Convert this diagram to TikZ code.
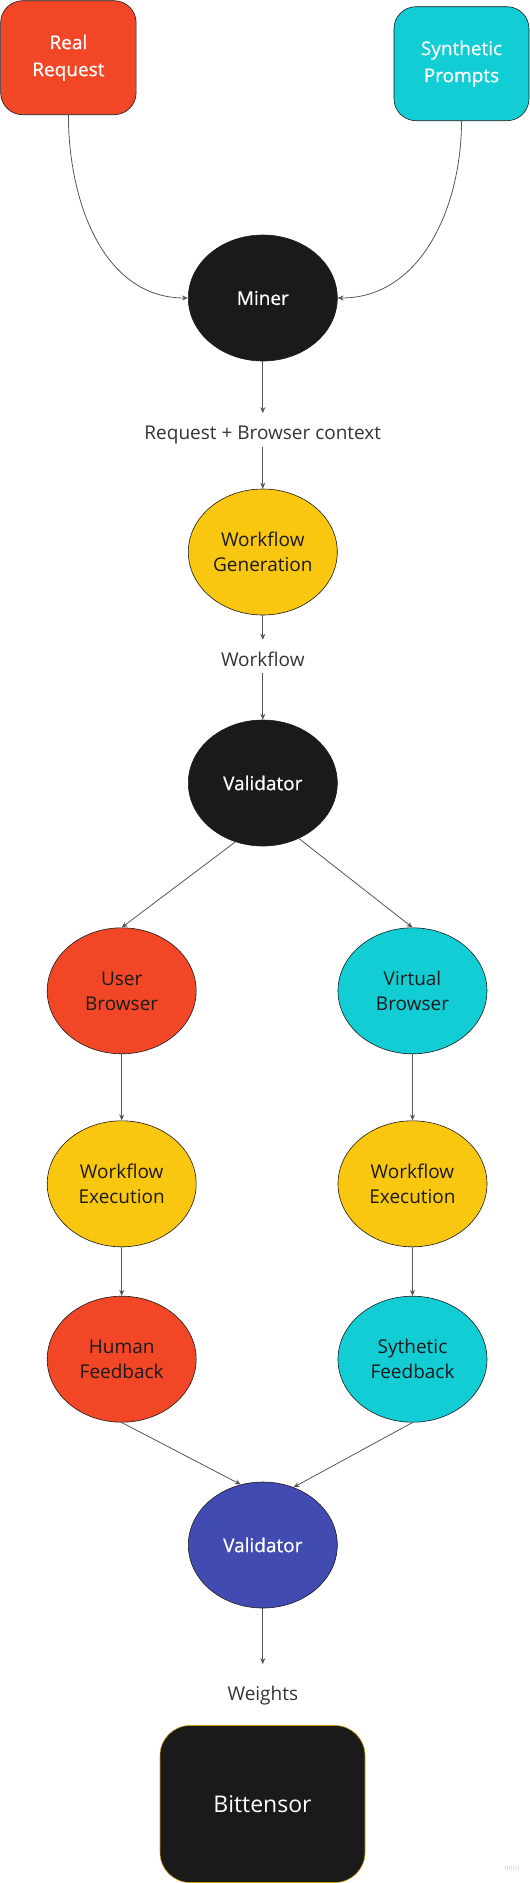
\documentclass[tikz,border=0pt]{standalone}
\usepackage{fontspec}
\setmainfont{Open Sans}
\newfontfamily\heavyfont[FakeBold=0.6]{Open Sans}
\usepackage{xcolor}
\usepackage{tikz}
\usetikzlibrary{arrows.meta, shapes.geometric}

\definecolor{miroRed}{HTML}{F24726}
\definecolor{miroCyan}{HTML}{12CDD4}
\definecolor{miroYellow}{HTML}{FAC710}
\definecolor{miroBlue}{HTML}{414BB2}
\definecolor{miroBlack}{HTML}{1A1A1A}
\definecolor{miroText}{HTML}{333333}
\definecolor{miroLine}{HTML}{555555}

\begin{document}
\begin{tikzpicture}[x=1pt, y=1pt,
  >={Stealth[length=6pt,width=5pt]},
  flow/.style={->, draw=miroLine, line width=0.8pt},
  blob/.style={ellipse, draw=miroBlack, line width=0.6pt, minimum width=149pt, minimum height=126pt, inner sep=0pt, align=center, text=miroBlack, font=\fontsize{19}{25}\selectfont},
  darkblob/.style={blob, fill=miroBlack, text=white, font=\heavyfont\fontsize{19}{25}\selectfont},
  card/.style={rectangle, rounded corners=22pt, draw=miroBlack, line width=0.6pt, align=center, text=white, font=\heavyfont\fontsize{19}{27}\selectfont},
  tag/.style={anchor=base, inner sep=0pt, text height=26pt, text depth=7pt, text=miroText, font=\fontsize{19}{25}\selectfont}]
\useasboundingbox (0,0) rectangle (530,-1883);
\node[card, fill=miroRed, minimum width=135.5pt, minimum height=114pt](real) at (68.4,-57.7) {Real\\Request};
\node[card, fill=miroCyan, minimum width=135pt, minimum height=114pt](synth) at (461.5,-63.7) {Synthetic\\Prompts};
\node[darkblob](miner) at (262.8,-298) {Miner};
\node[tag](ctx) at (262.8,-439.3) {Request + Browser context};
\node[blob, fill=miroYellow](wfgen) at (262.8,-552) {Workflow\\Generation};
\node[tag](wf) at (262.8,-666) {Workflow};
\node[darkblob](val) at (262.8,-783) {Validator};
\node[blob, fill=miroRed](userb) at (121.7,-990.8) {User\\Browser};
\node[blob, fill=miroCyan](virtb) at (412.5,-990.8) {Virtual\\Browser};
\node[blob, fill=miroYellow](exec1) at (121.7,-1183.8) {Workflow\\Execution};
\node[blob, fill=miroYellow](exec2) at (412.5,-1183.8) {Workflow\\Execution};
\node[blob, fill=miroRed](human) at (121.7,-1359.2) {Human\\Feedback};
\node[blob, fill=miroCyan](sythf) at (412.5,-1359.2) {Sythetic\\Feedback};
\node[darkblob, fill=miroBlue](val2) at (262.8,-1545) {Validator};
\node[tag](weights) at (262.8,-1700.3) {Weights};
\node[card, fill=miroBlack, draw=miroYellow!80!black, rounded corners=30pt, minimum width=205pt, minimum height=157pt, font=\fontsize{23}{28}\selectfont](bt) at (262.5,-1804) {Bittensor};
\node[text=black!20, font=\fontsize{7}{8}\selectfont](miro) at (512,-1868) {miro};
%
\draw[flow](real.south) to[out=-90, in=180] (miner.west);
\draw[flow](synth.south) to[out=-90, in=0] (miner.east);
\draw[flow](miner) -- (ctx);
\draw[flow](ctx) -- (wfgen);
\draw[flow](wfgen) -- (wf);
\draw[flow](wf) -- (val);
\draw[flow](val.245) -- (userb.north);
\draw[flow](val.303) -- (virtb.north);
\draw[flow](userb) -- (exec1);
\draw[flow](virtb) -- (exec2);
\draw[flow](exec1) -- (human);
\draw[flow](exec2) -- (sythf);
\draw[flow](human.south) -- (val2.110);
\draw[flow](sythf.south) -- (val2.62);
\draw[flow](val2) -- ([yshift=10pt]weights.north);
\end{tikzpicture}
\end{document}
